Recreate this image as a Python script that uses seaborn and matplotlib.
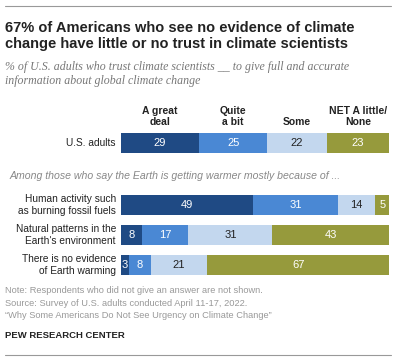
import matplotlib
matplotlib.use("Agg")
import matplotlib.pyplot as plt
import seaborn as sns
import numpy as np
import pandas as pd

# data
rows = ["U.S. adults",
        "Human activity such\nas burning fossil fuels",
        "Natural patterns in the\nEarth's environment",
        "There is no evidence\nof Earth warming"]
row_y = [143, 205, 235, 265]  # pixel centers from top
categories = ["A great\ndeal", "Quite\na bit", "Some", "NET A little/\nNone"]
great_deal = [29, 49, 8, 3]
quite_a_bit = [25, 31, 17, 8]
some = [22, 14, 31, 21]
little_none = [23, 5, 43, 67]

colors = ["#1f4a84", "#4a88d4", "#c3d7ee", "#969a3c"]
text_colors = ["white", "white", "#222222", "white"]

sns.set_theme(style="white")
plt.rcParams["font.family"] = ["Liberation Sans", "DejaVu Sans"]

W, H = 400, 362
fig = plt.figure(figsize=(W / 100, H / 100), dpi=100)

x0, x1 = 120.7, 391.7
ax = fig.add_axes([x0 / W, 0, (x1 - x0) / W, 1])

df = pd.DataFrame({"row": rows, "y": row_y,
                   "c0": great_deal, "c1": quite_a_bit,
                   "c2": some, "c3": little_none})
segs = ["c0", "c1", "c2", "c3"]
cum = df[segs].cumsum(axis=1)

for i in reversed(range(4)):
    sns.barplot(x=cum[segs[i]], y=df["y"], orient="h", native_scale=True,
                color=colors[i], width=20 / 30, saturation=1, ax=ax,
                linewidth=0)

ax.set_xlim(0, 100)
ax.set_ylim(H, 0)
ax.axis("off")

# value labels
for r in range(len(rows)):
    left = 0
    for i, s in enumerate(segs):
        v = df[s].iloc[r]
        ax.text(left + v / 2, row_y[r], str(v), ha="center", va="center",
                color=text_colors[i], fontsize=8)
        left += v

def px(x, y):
    return x / W, 1 - y / H

# row labels
for r, lab in enumerate(rows):
    fig.text(*px(116, row_y[r]), lab, ha="right", va="center",
             fontsize=7.3, color="#222222", linespacing=1.2)

# column headers
us_left = np.cumsum([0] + [great_deal[0], quite_a_bit[0], some[0]])
us_vals = [great_deal[0], quite_a_bit[0], some[0], little_none[0]]
for i, cat in enumerate(categories):
    xc = us_left[i] + us_vals[i] / 2
    ax.text(xc, 127, cat, ha="center", va="bottom", fontsize=7.5,
            fontweight="bold", color="#222222", linespacing=1.1)

# title and subtitle
fig.text(*px(5, 21), "67% of Americans who see no evidence of climate\n"
         "change have little or no trust in climate scientists",
         ha="left", va="top", fontsize=10.5, fontweight="bold",
         color="#222222", linespacing=1.2)
fig.text(*px(5, 61), "% of U.S. adults who trust climate scientists __ to give full and accurate\n"
         "information about global climate change",
         ha="left", va="top", fontsize=8.6, style="italic",
         family=["Liberation Serif", "DejaVu Serif"], color="#777777",
         linespacing=1.2)

fig.text(*px(10, 176), "Among those who say the Earth is getting warmer mostly because of ...",
         ha="left", va="center", fontsize=7.6, style="italic", color="#888888")

# notes
notes = ("Note: Respondents who did not give an answer are not shown.\n"
         "Source: Survey of U.S. adults conducted April 11-17, 2022.\n"
         "\u201cWhy Some Americans Do Not See Urgency on Climate Change\u201d")
fig.text(*px(5, 286), notes, ha="left", va="top", fontsize=6.7,
         color="#999999", linespacing=1.5)
fig.text(*px(5, 336), "PEW RESEARCH CENTER", ha="left", va="center",
         fontsize=6.8, fontweight="bold", color="#222222")

# rules
for yy in (6, 355):
    fig.add_artist(plt.Line2D([5 / W, 391 / W], [1 - yy / H] * 2,
                              color="#999999", lw=0.8))

fig.savefig("out.png", dpi=100, facecolor="white")
